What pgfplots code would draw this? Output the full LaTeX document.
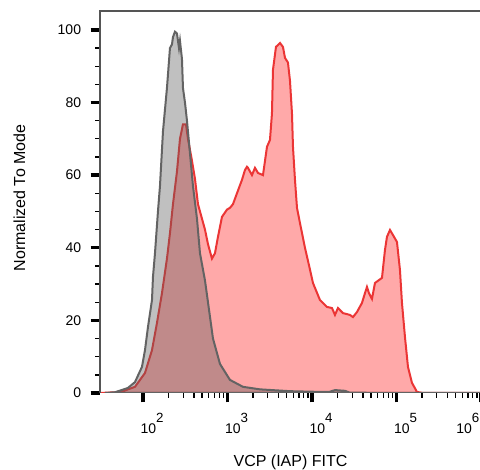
\documentclass[border=0pt]{standalone}
\usepackage{fontspec}
\setmainfont{Liberation Sans}
\usepackage{pgfplots}
\pgfplotsset{compat=1.18}
\usetikzlibrary{calc}

\definecolor{redline}{HTML}{EB3535}
\definecolor{redfill}{HTML}{FFA9A9}
\definecolor{grayline}{HTML}{636363}
\definecolor{grayfill}{HTML}{5A5A5A}
\definecolor{spine}{HTML}{555555}

% decade label: 10 with a large raised exponent
\newcommand{\dec}[1]{10\raisebox{8.25pt}{\fontsize{10}{11}\selectfont #1}}

\begin{document}
\begin{tikzpicture}
\begin{axis}[
  name=ax,
  scale only axis,
  width=285.75pt, height=286.5pt,
  xmode=log,
  xmin=31, xmax=1e6,
  ymin=0, ymax=105.2,
  axis line style={draw=none},
  tick align=outside,
  xtick pos=left, ytick pos=left,
  xtick={100,1000,10000,100000,1000000},
  xticklabels={\dec{2},\dec{3},\dec{4},\dec{5},\hspace*{-17.25pt}\dec{6}},
  ytick={0,20,40,60,80,100},
  minor y tick num=3,
  major tick length=7pt,
  minor tick length=3.5pt,
  major tick style={black, line width=2.5pt},
  minor tick style={black, line width=1pt},
  /pgf/number format/assume math mode=true,
  ticklabel style={font=\fontsize{10.5}{12}\selectfont},
  xticklabel style={anchor=north west, inner sep=0pt, xshift=-2pt, yshift=-8pt},
  yticklabel style={anchor=east, inner sep=0pt, xshift=-7pt},
  xlabel={VCP (IAP) FITC},
  ylabel={Normalized To Mode},
  every axis x label/.style={at={(rel axis cs:0.5,0)}, anchor=base,
    yshift=-55.5pt, font=\fontsize{12}{14}\selectfont},
  every axis y label/.style={at={(rel axis cs:0,0.5)}, xshift=-65pt,
    yshift=3pt, rotate=90, anchor=north, inner sep=0pt,
    font=\fontsize{12}{14}\selectfont},
]
% sample
\addplot [draw=redline, line width=1.5pt, fill=redfill] coordinates {
  (31,0) (46.6,0.2) (61.2,0.7) (80.4,1.7) (105.6,5.5) (127.8,11.8)
  (146.4,19.3) (167.8,27.5) (192.2,37) (208.6,44) (226.4,52) (252.5,61)
  (274,70) (297.3,74) (322.6,74) (340.8,70) (379.9,64) (412.3,59)
  (447.5,52) (499.1,48) (541.6,45) (587.7,41) (655.2,37) (711.1,38.5)
  (771.7,43) (860.5,48.5) (986,50.5) (1070,51) (1161,52) (1295,55)
  (1484,58.7) (1610,61.4) (1701,62.3) (1747,62) (1949,60) (2115,62)
  (2295,60.6) (2630,60) (2934,67.8) (3183,69.7) (3360,77) (3454,89)
  (3748,95.3) (4180,96.4) (4536,95.3) (4791,92.3) (5197,91) (5490,86)
  (5797,77) (5957,67.8) (6290,58.7) (6645,51) (7209,46.8) (8260,40)
  (9465,34) (10270,30.3) (12430,25.6) (15040,23.7) (17240,23.4)
  (18710,21.5) (20300,23.4) (23260,22) (28150,21.5) (30550,20.9)
  (34070,22.3) (39040,24.8) (42370,27.5) (44740,29.2) (47240,27.5)
  (51270,25.9) (55640,30.3) (60370,30.9) (67340,31.7) (73070,39.4)
  (77150,43) (83730,44.9) (90870,43.5) (101300,41.6) (109900,33.9)
  (116100,24.8) (126000,15.4) (136700,7.2) (152500,2.8) (174700,0.3)
  (205800,0) (1e6,0)
} \closedcycle;
% isotype control
\addplot [draw=grayline, line width=1.5pt, fill=grayfill, fill opacity=0.38] coordinates {
  (35.5,0) (46.6,0.2) (66.4,1.4) (80.4,3) (97.3,7.2) (105.6,11.8)
  (114.6,18.2) (127.8,25.6) (131.3,32) (138.7,38.5) (150.4,50)
  (158.9,57) (172.4,72) (182,78) (192.2,84) (208.6,95) (220.3,96)
  (226.4,98) (239.1,99.5) (252.5,99) (266.7,95) (274,97) (289.3,92)
  (297.3,84) (314,80) (331.6,75) (359.9,66) (390.5,57) (435.5,48)
  (472.5,38.5) (541.6,31) (587.7,25) (673.4,15) (815,8) (1070,3.6)
  (1525,1.7) (2423,1.0) (5490,0.5) (12430,0.3) (16000,0.3) (18710,0.8)
  (24570,0.6) (28000,0.1) (109900,0) (1e6,0)
} \closedcycle;
\end{axis}
\draw[spine, line width=1.1pt] (ax.south west) -- (ax.north west) -- (ax.north east);
\pgfresetboundingbox
\useasboundingbox ($(ax.south west)+(-75pt,-57.75pt)$) rectangle ($(ax.south west)+(285pt,294.75pt)$);
\end{tikzpicture}
\end{document}
